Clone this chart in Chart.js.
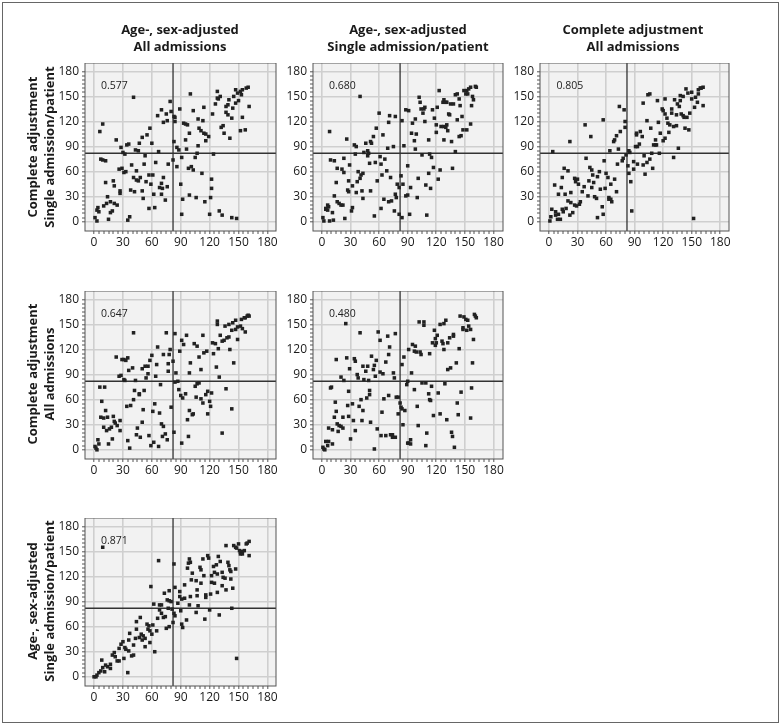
<!DOCTYPE html>
<html>
<head>
<meta charset="utf-8">
<script src="https://cdn.jsdelivr.net/npm/chart.js@4"></script>
<style>
html,body{margin:0;padding:0;background:#fff;}
body{width:782px;height:726px;position:relative;overflow:hidden;font-family:"Open Sans",sans-serif;color:#1a1a1a;}
#frame{position:absolute;left:2px;top:2px;width:775px;height:719px;border:1.5px solid #666;}
canvas{position:absolute;}
.head{position:absolute;font-weight:700;font-size:13px;line-height:17px;text-align:center;white-space:nowrap;}
.side{position:absolute;font-weight:700;font-size:13px;line-height:17px;text-align:center;white-space:nowrap;transform:translate(-50%,-50%) rotate(-90deg);}
.corr{position:absolute;font-size:10.5px;line-height:12px;color:#222;}
</style>
</head>
<body>
<div id="frame"></div>
<script>
// points: [x rank, y rank]
const panelA1 = [[41,149],[100,153],[9,117],[6,108],[23,98],[28,89],[30,83],[32,81],[34,92],[36,93],[43,86],[46,85],[47,94],[50,101],[55,104],[58,112],[60,94],[53,79],[67,84],[66,127],[70,134],[72,119],[76,121],[75,129],[79,144],[80,132],[83,126],[84,125],[84,120],[89,135],[83,96],[86,89],[88,86],[96,87],[95,98],[93,118],[95,117],[97,116],[99,106],[103,133],[108,123],[113,121],[114,137],[109,112],[111,109],[114,106],[116,105],[119,102],[116,97],[108,91],[105,77],[107,82],[91,77],[124,81],[123,129],[126,141],[128,156],[128,148],[129,147],[131,150],[137,138],[139,140],[137,131],[139,128],[143,124],[140,146],[144,136],[147,158],[145,150],[149,154],[152,156],[154,158],[158,160],[160,161],[153,152],[150,145],[147,142],[161,138],[154,125],[152,109],[157,110],[132,113],[134,115],[135,106],[141,100],[7,75],[9,74],[12,73],[39,68],[44,61],[52,69],[64,71],[26,63],[29,64],[31,59],[33,60],[77,69],[82,74],[86,66],[98,64],[101,66],[103,62],[112,58],[122,51],[122,40],[90,45],[12,47],[20,49],[21,43],[27,37],[27,34],[38,38],[42,36],[50,37],[41,53],[44,50],[46,49],[48,53],[54,48],[57,56],[59,45],[61,56],[72,53],[70,46],[68,41],[71,40],[76,42],[74,26],[70,33],[62,33],[51,28],[57,16],[63,17],[92,27],[99,32],[106,29],[115,24],[121,29],[91,9],[120,9],[130,13],[133,8],[143,5],[148,4],[14,30],[10,19],[13,22],[17,24],[21,22],[24,20],[17,11],[19,13],[15,3],[4,17],[3,14],[5,12],[1,5],[3,1],[35,2],[37,6]];
const panelA2 = [[40,150],[8,108],[26,99],[60,130],[34,92],[36,90],[35,81],[46,94],[51,96],[52,94],[44,83],[48,85],[49,82],[48,79],[54,102],[57,112],[64,104],[69,88],[75,90],[70,119],[71,127],[77,126],[84,121],[86,91],[88,134],[91,133],[95,118],[98,123],[94,106],[99,105],[97,97],[98,87],[105,80],[102,149],[103,143],[104,135],[107,135],[108,137],[106,130],[108,120],[112,98],[113,81],[115,77],[117,65],[116,134],[121,137],[118,124],[120,116],[120,107],[123,157],[128,98],[125,114],[128,114],[130,113],[131,116],[132,109],[127,143],[130,143],[131,143],[128,146],[133,129],[134,128],[135,141],[138,141],[136,96],[140,84],[140,152],[142,153],[144,147],[145,139],[142,122],[147,126],[144,102],[146,103],[148,110],[152,110],[156,117],[157,139],[159,146],[158,150],[149,157],[151,153],[152,157],[154,159],[156,161],[153,153],[161,162],[162,161],[9,74],[13,73],[23,76],[16,64],[21,63],[23,59],[29,68],[38,60],[41,56],[43,58],[40,52],[50,70],[56,71],[61,78],[62,69],[66,75],[68,61],[63,56],[72,53],[58,49],[83,55],[28,49],[32,43],[37,48],[15,47],[27,38],[28,36],[36,35],[42,37],[51,37],[43,28],[13,31],[79,45],[81,41],[85,45],[93,41],[77,33],[78,29],[88,31],[90,32],[100,29],[101,52],[109,44],[114,40],[112,58],[122,51],[124,62],[90,67],[137,64],[65,27],[70,24],[73,25],[62,16],[55,7],[76,13],[81,9],[84,5],[92,9],[110,8],[6,20],[4,15],[7,18],[4,16],[6,14],[16,24],[18,22],[20,20],[22,20],[11,11],[31,13],[32,17],[24,4],[1,5],[2,1],[8,1],[12,2]];
const panelA3 = [[4,84],[22,96],[38,116],[44,102],[57,122],[64,85],[68,96],[69,98],[71,103],[75,108],[73,87],[74,138],[79,134],[80,120],[80,113],[78,76],[77,73],[72,69],[81,80],[84,85],[85,83],[92,104],[92,106],[96,108],[98,102],[91,90],[93,90],[95,93],[103,121],[107,112],[99,142],[104,152],[106,153],[114,145],[122,147],[112,92],[112,98],[113,92],[110,92],[115,119],[117,106],[120,97],[122,100],[126,107],[119,135],[120,133],[122,129],[124,124],[125,118],[127,116],[131,114],[134,115],[129,135],[129,130],[132,146],[134,128],[135,141],[137,138],[138,145],[139,129],[141,127],[142,125],[145,125],[138,151],[141,150],[144,159],[146,154],[150,155],[150,147],[154,149],[156,143],[153,137],[148,130],[143,112],[147,110],[162,139],[157,158],[159,160],[162,161],[160,160],[157,153],[136,88],[131,77],[116,82],[108,82],[152,4],[100,79],[106,75],[109,64],[101,57],[103,71],[99,68],[93,69],[89,72],[89,63],[84,58],[83,67],[86,48],[87,13],[58,73],[60,58],[62,53],[69,51],[65,45],[71,36],[63,29],[65,27],[66,24],[63,27],[59,40],[54,39],[56,18],[57,9],[51,5],[48,30],[50,28],[39,76],[43,65],[45,62],[46,56],[53,60],[51,54],[42,49],[47,47],[45,41],[37,42],[35,36],[41,31],[16,64],[20,61],[14,53],[6,44],[10,33],[13,41],[17,33],[23,35],[27,52],[30,51],[31,45],[28,48],[20,25],[23,23],[27,20],[29,19],[32,21],[33,24],[22,8],[25,11],[18,16],[14,15],[15,12],[3,15],[7,12],[10,9],[12,3],[7,8],[2,6],[1,1],[9,3]];
const panelB1 = [[41,140],[75,140],[84,139],[96,137],[91,131],[93,126],[104,127],[107,124],[113,137],[89,118],[79,120],[78,114],[72,114],[66,123],[60,113],[58,107],[65,102],[56,100],[53,100],[50,97],[77,103],[82,106],[77,94],[85,92],[56,91],[54,86],[64,88],[40,98],[36,95],[23,111],[29,108],[31,108],[33,107],[35,110],[26,88],[28,89],[31,84],[32,83],[43,83],[69,78],[84,81],[87,82],[99,92],[100,104],[111,96],[109,111],[114,116],[117,118],[124,115],[127,99],[130,87],[145,104],[123,128],[126,127],[129,121],[128,154],[128,150],[131,137],[133,130],[135,131],[138,134],[140,135],[136,148],[140,150],[141,120],[149,132],[143,143],[147,144],[149,147],[152,148],[154,145],[157,141],[144,152],[147,155],[153,156],[156,158],[159,160],[160,161],[161,160],[157,158],[6,75],[11,75],[8,58],[42,71],[47,67],[52,71],[47,66],[41,60],[38,53],[34,52],[51,48],[63,55],[61,46],[68,44],[80,51],[88,72],[90,65],[92,62],[95,67],[105,76],[109,80],[107,79],[106,63],[111,61],[113,56],[116,66],[118,70],[122,68],[120,58],[121,52],[137,73],[118,43],[143,49],[99,47],[102,42],[103,43],[97,36],[133,20],[98,16],[91,8],[83,21],[50,33],[45,26],[44,18],[48,15],[57,17],[70,31],[72,28],[71,16],[74,19],[76,12],[67,4],[62,9],[59,5],[35,11],[37,2],[12,47],[7,39],[10,38],[14,39],[20,40],[10,27],[13,23],[16,25],[18,27],[21,34],[22,32],[24,29],[27,35],[27,23],[19,13],[15,7],[4,12],[5,7],[1,4],[2,2],[3,0]];
const panelB2 = [[25,151],[40,140],[59,141],[61,131],[69,136],[77,139],[71,123],[70,114],[15,108],[26,110],[34,109],[35,106],[29,97],[52,112],[57,107],[43,100],[48,100],[55,101],[46,94],[54,96],[67,105],[61,93],[64,91],[20,87],[23,83],[37,90],[38,86],[44,84],[49,83],[56,88],[75,92],[76,86],[86,111],[84,102],[91,120],[95,126],[98,124],[97,118],[99,117],[103,117],[104,114],[94,92],[113,115],[102,153],[107,153],[107,149],[118,143],[121,137],[119,133],[120,128],[116,128],[119,125],[126,130],[127,127],[128,120],[124,150],[128,151],[130,155],[132,128],[134,134],[138,136],[138,138],[144,121],[141,104],[132,96],[135,98],[158,104],[159,132],[145,160],[149,159],[151,156],[153,155],[148,146],[148,144],[154,148],[156,144],[152,143],[160,162],[162,158],[161,160],[89,78],[90,82],[97,72],[105,80],[109,80],[115,76],[129,79],[112,67],[113,60],[114,59],[122,68],[146,69],[157,74],[100,52],[142,56],[117,41],[124,43],[131,36],[143,42],[156,38],[101,29],[110,20],[109,5],[136,21],[137,16],[139,3],[28,70],[9,74],[10,75],[14,57],[15,46],[13,39],[22,39],[27,53],[32,55],[39,52],[43,47],[41,60],[47,62],[50,71],[50,66],[65,61],[70,65],[78,63],[80,63],[82,56],[83,51],[84,49],[87,47],[80,43],[63,45],[28,40],[33,35],[42,35],[51,33],[35,23],[30,13],[58,25],[62,17],[67,17],[72,18],[74,15],[77,15],[74,18],[55,1],[85,30],[90,8],[91,8],[93,12],[93,7],[7,26],[11,24],[16,31],[18,29],[20,28],[22,26],[17,22],[4,10],[7,10],[11,7],[6,5],[1,3],[2,1],[3,0]];
const panelC1 = [[9,155],[67,139],[83,135],[59,108],[148,22],[35,5],[63,30],[143,82],[130,74],[115,69],[137,157],[145,157],[147,155],[150,159],[148,154],[151,151],[152,149],[154,150],[156,151],[152,147],[154,147],[159,160],[161,162],[158,159],[161,145],[99,141],[100,137],[98,136],[97,130],[102,124],[101,116],[106,115],[94,110],[110,131],[111,128],[113,141],[118,145],[119,142],[114,121],[111,112],[107,104],[107,97],[116,98],[116,95],[121,99],[128,101],[122,121],[124,132],[127,134],[129,144],[131,138],[125,125],[128,123],[133,125],[134,119],[136,118],[122,113],[125,112],[133,109],[137,104],[139,137],[140,133],[141,128],[142,126],[147,129],[142,117],[144,106],[84,107],[73,100],[78,103],[89,102],[89,96],[76,92],[78,91],[80,90],[87,88],[91,93],[94,94],[100,96],[99,86],[108,85],[90,79],[77,82],[106,77],[120,80],[62,87],[68,86],[70,86],[68,80],[70,76],[66,70],[72,71],[74,72],[81,81],[83,76],[84,73],[82,65],[96,68],[91,63],[92,59],[75,58],[78,60],[48,71],[44,66],[44,57],[37,52],[55,63],[57,61],[61,62],[56,57],[65,55],[60,51],[58,55],[49,51],[51,49],[53,46],[47,47],[43,46],[50,44],[36,44],[41,38],[53,36],[58,41],[30,42],[28,39],[32,35],[26,34],[33,33],[36,31],[39,25],[41,26],[21,29],[19,26],[22,24],[26,19],[31,22],[8,20],[9,11],[12,14],[14,12],[17,10],[11,6],[5,5],[3,2],[2,0],[0,0],[7,7],[17,15],[24,19]];
const cutoff = 82;
const tickLabels = [0,30,60,90,120,150,180];
const columnTitles = [["Age-, sex-adjusted","All admissions"],["Age-, sex-adjusted","Single admission/patient"],["Complete adjustment","All admissions"]];
const rowTitles = [["Complete adjustment","Single admission/patient"],["Complete adjustment","All admissions"],["Age-, sex-adjusted","Single admission/patient"]];
const correlations = ["0.577","0.680","0.805","0.647","0.480","0.871"];
const panelPoints = [panelA1,panelA2,panelA3,panelB1,panelB2,panelC1];

// page layout
const colLeft = [84.5,312.5,540];
const colWidth = [191,190.2,189];
const colMaxX = [188.9,190,189.2];
const rowTop = [63,290.5,517.5];
const colCentre = [180,408,633];
const sideCentre = [147,374,601];
const plotH = 168, leftRoom = 36, bottomRoom = 30, minX = -9.4, minY = -11, maxY = 190;
const slots = [[0,0],[1,0],[2,0],[0,1],[1,1],[0,2]];

const plotFrame = {
  id:'plotFrame',
  beforeDraw(c){
    const a=c.chartArea, g=c.ctx;
    g.fillStyle='#f2f2f2';
    g.fillRect(a.left,a.top,a.width,a.height);
  },
  afterDraw(c){
    const a=c.chartArea, g=c.ctx;
    g.strokeStyle='#555';
    g.lineWidth=1;
    g.strokeRect(a.left,a.top,a.width,a.height);
  }
};

function axis(min,max,isY){
  return {
    type:'linear', min:min, max:max,
    afterFit(s){
      s.paddingLeft=s.paddingRight=s.paddingTop=s.paddingBottom=0;
      if(isY) s.width=leftRoom; else s.height=bottomRoom;
    },
    afterBuildTicks(s){ s.ticks=s.ticks.filter(t=>t.value%5===0 && t.value>=0 && t.value<=180); },
    grid:{
      drawOnChartArea:true, drawTicks:true, tickLength:3,
      color:ctx=>(ctx.tick && ctx.tick.value%30===0)?'#cfcfcf':'rgba(0,0,0,0)',
      lineWidth:ctx=>(ctx.tick && ctx.tick.value%30===0)?1.6:0,
      tickColor:'#555', tickWidth:1
    },
    border:{display:false},
    ticks:{
      stepSize:5, autoSkip:false, maxRotation:0, padding:isY?3:1, color:'#1a1a1a',
      font:{family:'"Open Sans",sans-serif',size:12},
      callback:v=>tickLabels.includes(v)?String(v):''
    }
  };
}

panelPoints.forEach((pts,i)=>{
  const [c,r]=slots[i];
  const cv=document.createElement('canvas');
  const w=leftRoom+colWidth[c]+8, h=plotH+bottomRoom;
  cv.width=w; cv.height=h;
  cv.style.left=(colLeft[c]-leftRoom)+'px';
  cv.style.top=rowTop[r]+'px';
  cv.style.width=w+'px'; cv.style.height=h+'px';
  document.body.appendChild(cv);
  new Chart(cv,{
    type:'scatter',
    data:{datasets:[
      {data:[{x:minX,y:cutoff},{x:colMaxX[c],y:cutoff}],showLine:true,pointRadius:0,borderColor:'#333',borderWidth:1.3,order:2},
      {data:[{x:cutoff,y:minY},{x:cutoff,y:maxY}],showLine:true,pointRadius:0,borderColor:'#333',borderWidth:1.3,order:2},
      {data:pts.map(p=>({x:p[0],y:p[1]})),pointStyle:'rect',pointRadius:2.5,backgroundColor:'#222',borderWidth:0,order:1}
    ]},
    options:{
      responsive:false, animation:false, devicePixelRatio:1,
      layout:{autoPadding:false,padding:{left:0,top:0,right:8,bottom:0}},
      plugins:{legend:{display:false},tooltip:{enabled:false}},
      scales:{x:axis(minX,colMaxX[c],false),y:axis(minY,maxY,true)}
    },
    plugins:[plotFrame]
  });
  const t=document.createElement('div');
  t.className='corr';
  t.textContent=correlations[i];
  t.style.left=(colLeft[c]+16.5)+'px';
  t.style.top=(rowTop[r]+16)+'px';
  document.body.appendChild(t);
});

columnTitles.forEach((lines,i)=>{
  const d=document.createElement('div');
  d.className='head';
  d.innerHTML=lines.join('<br>');
  d.style.left=colCentre[i]+'px';
  d.style.top='21px';
  d.style.transform='translateX(-50%)';
  document.body.appendChild(d);
});
rowTitles.forEach((lines,i)=>{
  const d=document.createElement('div');
  d.className='side';
  d.innerHTML=lines.join('<br>');
  d.style.left='41px';
  d.style.top=sideCentre[i]+'px';
  document.body.appendChild(d);
});
</script>
</body>
</html>
